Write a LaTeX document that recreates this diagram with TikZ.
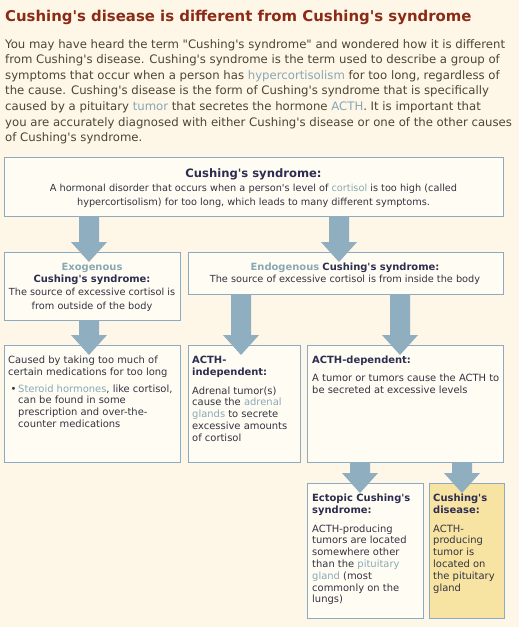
\documentclass[tikz,border=0pt]{standalone}
\usepackage{fontspec}
\setmainfont{DejaVu Sans}[Ligatures=TeXOff]
\usetikzlibrary{calc}
\definecolor{bgc}{RGB}{254,246,230}
\definecolor{boxfill}{RGB}{255,253,243}
\definecolor{boxline}{RGB}{140,170,192}
\definecolor{arrowc}{RGB}{143,174,191}
\definecolor{titlec}{RGB}{139,43,23}
\definecolor{bodyc}{RGB}{78,68,52}
\definecolor{linkc}{RGB}{135,168,182}
\definecolor{headc}{RGB}{45,45,82}
\definecolor{boxtextc}{RGB}{50,50,66}
\definecolor{yellowc}{RGB}{248,228,162}
\newcommand\lk[1]{\textcolor{linkc}{#1}}
\newcommand\hd[1]{\textcolor{headc}{\bfseries #1}}
\newcommand\textblock[6]{%
  \foreach \t [count=\i] in {#6} {\node[#5] (#1-\i) at (#2, #3+\i*#4-#4) {\t};}}
\newcommand\bigarrow[3]{%
  \fill[arrowc] let \p1=(#1.south), \p2=(#2.north) in
    (#3pt-10pt,\y1) -- (#3pt+10pt,\y1) -- (#3pt+10pt,\y2+10pt) -- (#3pt+18pt,\y2+10pt)
    -- (#3pt,\y2-10pt) -- (#3pt-18pt,\y2+10pt) -- (#3pt-10pt,\y2+10pt) -- cycle;}
\begin{document}
\begin{tikzpicture}[x=1pt,y=-1pt,
  box/.style={draw=boxline, fill=boxfill, line width=1pt, inner sep=0, outer sep=0, anchor=north west},
  ybox/.style={box, fill=yellowc},
  body/.style={inner sep=0, anchor=base west, text=bodyc, font=\fontsize{11.7}{14}\selectfont},
  bt/.style={inner sep=0, anchor=base west, text=boxtextc, font=\fontsize{9.95}{12}\selectfont},
  btc/.style={bt, anchor=base},
  bth/.style={inner sep=0, anchor=base, text=boxtextc, font=\fontsize{11.6}{12}\selectfont},
  btm/.style={inner sep=0, anchor=base, text=boxtextc, font=\fontsize{9.75}{12}\selectfont}]
\useasboundingbox (0,0) rectangle (519,627);
\fill[bgc] (0,0) rectangle (519,627);
% title and intro
\node[inner sep=0, anchor=base west, text=titlec, font=\bfseries\fontsize{14.9}{18}\selectfont] (title) at (5,21.5)
  {Cushing's disease is different from Cushing's syndrome};
\textblock{intro}{5}{48}{15.6}{body}{%
  {You may have heard the term "Cushing's syndrome" and wondered how it is different},
  {from Cushing's disease. Cushing's syndrome is the term used to describe a group of},
  {symptoms that occur when a person has \lk{hypercortisolism} for too long, regardless of},
  {the cause. Cushing's disease is the form of Cushing's syndrome that is specifically},
  {caused by a pituitary \lk{tumor} that secretes the hormone \lk{ACTH}. It is important that},
  {you are accurately diagnosed with either Cushing's disease or one of the other causes},
  {of Cushing's syndrome.}}
% boxes
\node[box, minimum width=499, minimum height=59] (syn) at (4,157) {};
\node[box, minimum width=176, minimum height=68] (exo) at (4,252) {};
\node[box, minimum width=315, minimum height=42] (endo) at (188,252) {};
\node[box, minimum width=176, minimum height=117] (med) at (4,345) {};
\node[box, minimum width=112, minimum height=117] (indep) at (188,345) {};
\node[box, minimum width=196, minimum height=117] (dep) at (307,345) {};
\node[box, minimum width=116, minimum height=135] (ect) at (307,483) {};
\node[ybox, minimum width=75, minimum height=135] (dis) at (429,483) {};
% arrows
\bigarrow{syn}{exo}{89}
\bigarrow{syn}{endo}{339}
\bigarrow{exo}{med}{89}
\bigarrow{endo}{indep}{241}
\bigarrow{endo}{dep}{400}
\bigarrow{dep}{ect}{360}
\bigarrow{dep}{dis}{462}
% box texts
\node[bth] (synh) at (253.5,177.5) {\hd{Cushing's syndrome:}};
\textblock{synt}{253.5}{191.5}{14}{btm}{%
  {A hormonal disorder that occurs when a person's level of \lk{cortisol} is too high (called},
  {hypercortisolism) for too long, which leads to many different symptoms.}}
\node[btc] (exoh) at (92,270) {\textcolor{linkc}{\bfseries Exogenous}};
\node[btc] (exoh2) at (92,282) {\hd{Cushing's syndrome:}};
\textblock{exot}{92}{295.5}{14}{btm}{%
  {The source of excessive cortisol is},
  {from outside of the body}}
\node[btc] (endoh) at (345,270) {\textcolor{linkc}{\bfseries Endogenous} \hd{Cushing's syndrome:}};
\node[btm] (endot) at (345,282) {The source of excessive cortisol is from inside the body};
\textblock{medt}{8}{363}{12}{bt}{%
  {Caused by taking too much of},
  {certain medications for too long}}
\node[bt] (bullet) at (10.5,392) {\textbullet};
\textblock{medb}{18}{392}{11.7}{bt}{%
  {\lk{Steroid hormones}, like cortisol,},
  {can be found in some},
  {prescription and over-the-},
  {counter medications}}
\textblock{indh}{192}{363}{12.5}{bt}{{\hd{ACTH-}},{\hd{independent:}}}
\textblock{indt}{192}{394}{11.8}{bt}{%
  {Adrenal tumor(s)},
  {cause the \lk{adrenal}},
  {\lk{glands} to secrete},
  {excessive amounts},
  {of cortisol}}
\node[bt] (deph) at (312,363) {\hd{ACTH-dependent:}};
\textblock{dept}{312}{381}{12}{bt}{%
  {A tumor or tumors cause the ACTH to},
  {be secreted at excessive levels}}
\textblock{ecth}{312}{501}{12.3}{bt}{{\hd{Ectopic Cushing's}},{\hd{syndrome:}}}
\textblock{ectt}{312}{532}{11.8}{bt}{%
  {ACTH-producing},
  {tumors are located},
  {somewhere other},
  {than the \lk{pituitary}},
  {\lk{gland} (most},
  {commonly on the},
  {lungs)}}
\textblock{dish}{433}{501}{12.3}{bt}{{\hd{Cushing's}},{\hd{disease:}}}
\textblock{dist}{433}{532}{11.8}{bt}{%
  {ACTH-},
  {producing},
  {tumor is},
  {located on},
  {the pituitary},
  {gland}}
\end{tikzpicture}
\end{document}
